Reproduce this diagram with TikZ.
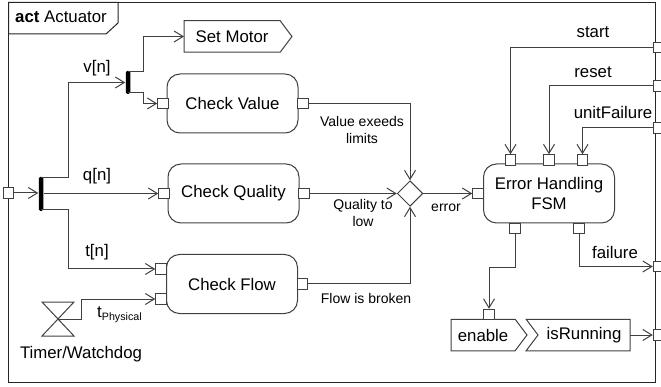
\documentclass[tikz,border=0pt]{standalone}
\usepackage{fontspec}
\setmainfont{Liberation Sans}
\usetikzlibrary{arrows.meta,shapes.geometric,shapes.symbols}

\newcommand{\sizeMain}{\fontsize{16.8}{20}\selectfont}
\newcommand{\sizeGuard}{\fontsize{14}{17}\selectfont}
\newcommand{\sizeSub}{\fontsize{10.7}{12}\selectfont}

\begin{document}
\begin{tikzpicture}[x=1pt,y=-1pt,>={Straight Barb[length=9pt,width=11pt]},line width=1pt,color=black!75,text=black,font=\sizeMain]
	\tikzstyle{action}=[draw,rectangle,rounded corners=13pt,minimum width=131pt,minimum height=59pt,inner sep=0pt,align=center]
	\tikzstyle{port}=[draw,rectangle,fill=white,minimum width=10.5pt,minimum height=10.5pt,inner sep=0pt]
	\tikzstyle{forkbar}=[rectangle,fill=black,rounded corners=1.5pt,minimum width=4.5pt,inner sep=0pt]
	\tikzstyle{signalbox}=[draw,signal,signal pointer angle=106,anchor=west,minimum height=31.5pt,inner sep=0pt,outer sep=0pt]
	\tikzstyle{guard}=[font=\sizeGuard,align=center,inner sep=0pt]
	\tikzstyle{flowname}=[inner sep=0pt]

	\useasboundingbox (0,0) rectangle (661,387);

	% frame
	\draw[black!85] (8.5,2.5) rectangle (655,382);
	\draw[black!85] (8.5,2.5) -- (118,2.5) -- (118,23) -- (106,34) -- (8.5,34) -- cycle;
	\node[flowname] (title) at (61,17) {\textbf{act} Actuator};

	\node[action] (cv) at (232.5,103.5) {Check Value};
	\node[action] (cq) at (233.5,193.5) {Check Quality};
	\node[action] (cf) at (232,284) {Check Flow};
	\node[action] (eh) at (549,193.5) {Error Handling\\FSM};
	\node[draw,diamond,aspect=1,fill=white,minimum size=25.5pt,inner sep=0pt] (merge) at (410,193.5) {};

	\node[signalbox,signal to=east,minimum width=108pt] (sm) at (184,36.5) {Set Motor};
	\node[signalbox,signal to=east,minimum width=76pt] (en) at (451,335) {enable};
	\node[signalbox,signal from=west,signal to=nowhere,minimum width=104pt] (run) at (538,335) {isRunning};

	\node[forkbar,minimum height=34pt] (f1) at (41,194) {};
	\node[forkbar,minimum height=23pt] (f2) at (128,82.5) {};
	\coordinate (f1a) at (41,178);
	\coordinate (f1b) at (41,210);
	\coordinate (f2a) at (128,72);
	\coordinate (f2b) at (128,92.5);
	\coordinate (timer) at (58,319);

	% ports
	\node[port] (in) at (8.5,193) {};
	\node[port] (cvIn) at (163,103.5) {};
	\node[port] (cvOut) at (303,103.5) {};
	\node[port] (cqIn) at (164,193.5) {};
	\node[port] (cqOut) at (304,193.5) {};
	\node[port] (cfIn) at (161,269) {};
	\node[port] (cfWd) at (161,299) {};
	\node[port] (cfOut) at (302.5,284) {};
	\node[port] (ehIn) at (478,193.5) {};
	\node[port] (ehStart) at (510.5,160) {};
	\node[port] (ehReset) at (549,160) {};
	\node[port] (ehUnit) at (582.5,160) {};
	\node[port] (ehEn) at (515,228.5) {};
	\node[port] (ehFail) at (579,228.5) {};
	\node[port] (enIn) at (489,314.5) {};
	\node[port] (startP) at (658.5,47.5) {};
	\node[port] (resetP) at (658.5,86) {};
	\node[port] (unitP) at (658.5,128) {};
	\node[port] (failP) at (658.5,266.5) {};
	\node[port] (runP) at (658.5,335) {};

	% hourglass
	\draw (timer) ++(-16,-17) -- ++(32,0) -- ++(-32,34) -- ++(32,0) -- cycle;

	\draw[->] (in.east) -- (f1.west |- in);
	\draw[->] (f1.east |- cqIn) -- (cqIn.west);
	\draw[->] (f1a) -- ++(27,0) |- (f2.west);
	\draw[->] (f1b) -- ++(27,0) |- (cfIn.west);
	\draw[->] (f2a) -- ++(15,0) |- (sm.west);
	\draw[->] (f2b) -- ++(15,0) |- (cvIn.west);
	\draw[->] (timer) -- ++(23,0) |- (cfWd.west);

	\draw[->] (cvOut.east) -| (merge.north);
	\draw[->] (cqOut.east) -- (merge.west);
	\draw[->] (cfOut.east) -| (merge.south);
	\draw[->] (merge.east) -- (ehIn.west);

	\draw[->] (startP.west) -| (ehStart.north);
	\draw[->] (resetP.west) -| (ehReset.north);
	\draw[->] (unitP.west) -| (ehUnit.north);
	\draw[->] (ehEn.south) -- ++(0,33.5) -| (enIn.north);
	\draw[->] (ehFail.south) |- (failP.west);
	\draw[->] (run.east) -- (runP.west);

	% labels
	\node[flowname] (vLabel) at (97,68) {v[n]};
	\node[flowname] (qLabel) at (97,176) {q[n]};
	\node[flowname] (tLabel) at (97,252) {t[n]};
	\node[flowname] (tpLabel) at (119.5,314.5) {t\raisebox{-3pt}{\sizeSub Physical}};
	\node[flowname] (wdLabel) at (81,354) {Timer/Watchdog};
	\node[flowname] (startLabel) at (593,32.5) {start};
	\node[flowname] (resetLabel) at (593,72.5) {reset};
	\node[flowname] (unitLabel) at (613,112.5) {unitFailure};
	\node[flowname] (failLabel) at (615,252) {failure};
	\node[guard] (valueLabel) at (362,129.5) {Value exeeds\\limits};
	\node[guard] (qualityLabel) at (363,212.5) {Quality to\\low};
	\node[guard] (flowLabel) at (366,298) {Flow is broken};
	\node[guard] (errorLabel) at (446,208) {error};
\end{tikzpicture}
\end{document}
